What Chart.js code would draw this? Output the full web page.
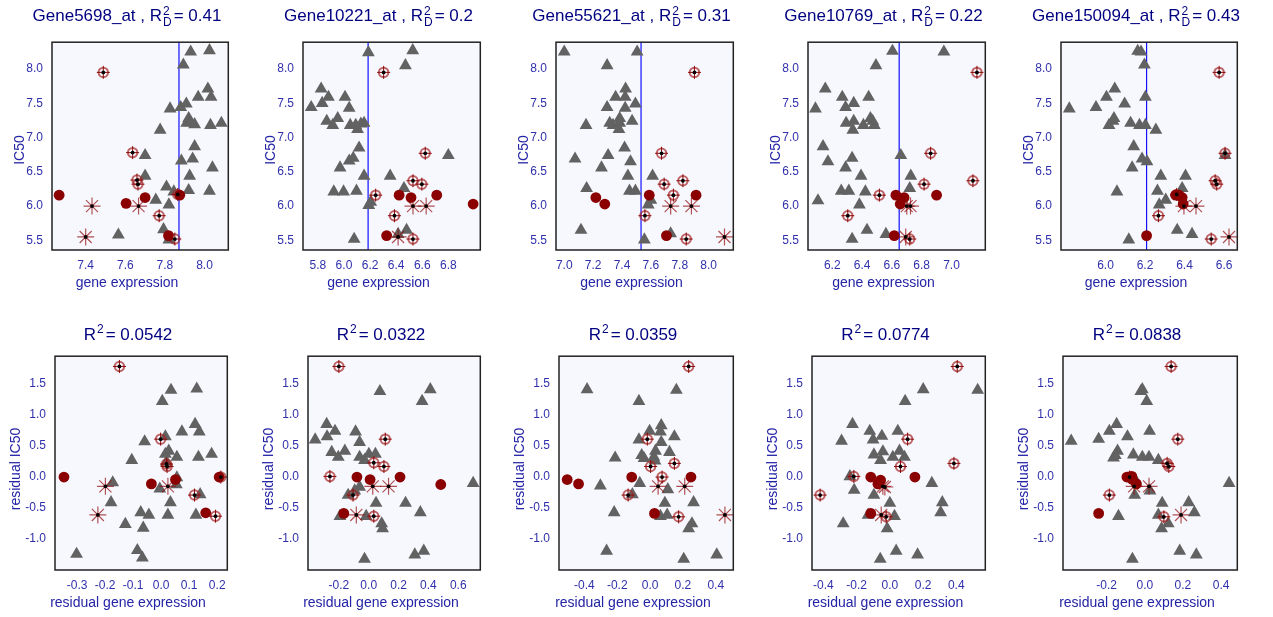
<!DOCTYPE html>
<html>
<head>
<meta charset="utf-8">
<script src="https://cdn.jsdelivr.net/npm/chart.js@4.4.1/dist/chart.umd.min.js"></script>
<style>
body{margin:0;background:#fff;width:1273px;height:617px;overflow:hidden;position:relative;font-family:"Liberation Sans",Arial,sans-serif}
canvas{position:absolute}
.ttl{position:absolute;font-size:17px;color:#000080;white-space:nowrap;transform:translate(-50%,-50%)}
.ax{position:absolute;font-size:14px;color:#2424a6;white-space:nowrap;transform:translate(-50%,-50%)}
.ax.v{transform:translate(-50%,-50%) rotate(-90deg)}
.ss{display:inline-block;vertical-align:middle;font-size:12px;line-height:11px;margin:0 2px 0 1px}
.sup{font-size:12px;position:relative;top:-7px;margin:0 2px 0 1px}
</style>
</head>
<body>
<script>
// gene names and statistics shown in titles
var genes = ['Gene5698_at', 'Gene10221_at', 'Gene55621_at', 'Gene10769_at', 'Gene150094_at'];
var r2D = ['0.41', '0.2', '0.31', '0.22', '0.43'];
var r2 = ['0.0542', '0.0322', '0.0359', '0.0774', '0.0838'];
var cutoffs = [7.871, 6.185, 7.532, 6.649, 6.208];

// axis limits and ticks
var icRange = [5.36, 8.39];
var icTicks = [5.5, 6.0, 6.5, 7.0, 7.5, 8.0];
var resRange = [-1.496, 1.945];
var resTicks = [-1.0, -0.5, 0.0, 0.5, 1.0, 1.5];
var exprRanges = [[7.23, 8.12], [5.686, 7.045], [6.943, 8.171], [6.037, 7.227], [5.775, 6.667]];
var exprTicks = [[7.4, 7.6, 7.8, 8.0], [5.8, 6.0, 6.2, 6.4, 6.6, 6.8], [7.0, 7.2, 7.4, 7.6, 7.8, 8.0], [6.2, 6.4, 6.6, 6.8, 7.0], [6.0, 6.2, 6.4, 6.6]];
var resxRanges = [[-0.379, 0.236], [-0.407, 0.748], [-0.555, 0.507], [-0.469, 0.575], [-0.429, 0.485]];
var resxTicks = [[-0.3, -0.2, -0.1, 0.0, 0.1, 0.2], [-0.2, 0.0, 0.2, 0.4, 0.6], [-0.4, -0.2, 0.0, 0.2, 0.4], [-0.4, -0.2, 0.0, 0.2, 0.4], [-0.2, 0.0, 0.2, 0.4]];

// top row: gene expression vs IC50  [x, y]
var p1Tri = [[7.93,8.25],[8.025,8.27],[7.893,8.06],[8.017,7.71],[7.968,7.59],[8.033,7.59],[7.908,7.49],[7.826,7.42],[7.88,7.44],[7.92,7.28],[7.91,7.21],[7.95,7.19],[7.93,7.22],[8.03,7.18],[8.085,7.21],[7.776,7.11],[7.95,6.87],[7.94,6.69],[7.883,6.66],[7.70,6.74],[8.04,6.56],[7.925,6.44],[7.70,6.44],[7.808,6.28],[7.92,6.23],[8.025,6.22],[7.754,6.09],[7.82,6.02],[7.565,5.58],[7.793,5.66],[7.82,5.51],[7.845,6.21]];
var p1Dot = [[7.266,6.16],[7.604,6.04],[7.70,6.125],[7.875,6.16],[7.818,5.57]];
var p1Ring = [[7.489,7.95],[7.637,6.78],[7.659,6.38],[7.664,6.32],[7.865,6.17],[7.771,5.86],[7.85,5.52]];
var p1Star = [[7.432,6.0],[7.667,6.0],[7.40,5.55]];

var p2Tri = [[6.187,8.24],[6.527,8.27],[6.471,8.05],[5.825,7.71],[5.881,7.59],[6.008,7.59],[5.833,7.50],[5.749,7.44],[6.04,7.43],[5.952,7.28],[5.868,7.24],[5.914,7.18],[6.048,7.18],[6.09,7.18],[6.13,7.20],[6.154,7.21],[6.104,7.12],[6.116,6.85],[6.071,6.70],[6.04,6.66],[5.97,6.56],[6.154,6.44],[6.354,6.44],[6.46,6.26],[6.80,6.74],[5.922,6.21],[5.997,6.21],[6.096,6.22],[6.205,6.06],[6.19,6.01],[6.48,5.65],[6.415,5.59],[6.078,5.52]];
var p2Dot = [[6.423,6.16],[6.514,6.125],[6.711,6.16],[6.99,6.03],[6.327,5.57]];
var p2Ring = [[6.304,7.95],[6.623,6.77],[6.529,6.37],[6.597,6.32],[6.243,6.16],[6.387,5.86],[6.529,5.52]];
var p2Star = [[6.529,6.0],[6.63,6.0],[6.415,5.55]];

var p3Tri = [[7.0,8.25],[7.505,8.25],[7.297,8.05],[7.425,7.71],[7.356,7.59],[7.422,7.59],[7.493,7.49],[7.297,7.44],[7.422,7.43],[7.384,7.28],[7.315,7.21],[7.384,7.21],[7.47,7.24],[7.151,7.18],[7.338,7.18],[7.379,7.12],[7.418,6.85],[7.075,6.69],[7.304,6.74],[7.459,6.65],[7.258,6.56],[7.441,6.44],[7.612,6.44],[7.155,6.26],[7.452,6.22],[7.493,6.22],[7.60,6.09],[7.582,6.02],[7.116,5.65],[7.737,5.60],[7.555,5.51]];
var p3Dot = [[7.219,6.125],[7.281,6.03],[7.589,6.16],[7.913,6.16],[7.708,5.57]];
var p3Ring = [[7.902,7.95],[7.674,6.77],[7.822,6.37],[7.692,6.32],[7.756,6.16],[7.559,5.86],[7.845,5.52]];
var p3Star = [[7.737,6.0],[7.881,6.0],[8.11,5.55]];

var p4Tri = [[6.604,8.26],[6.949,8.25],[6.493,8.05],[6.153,7.71],[6.267,7.59],[6.444,7.59],[6.344,7.50],[6.289,7.44],[6.087,7.42],[6.456,7.28],[6.293,7.21],[6.344,7.24],[6.409,7.18],[6.482,7.18],[6.471,7.24],[6.338,7.11],[6.138,6.87],[6.171,6.65],[6.333,6.70],[6.289,6.56],[6.66,6.74],[6.393,6.44],[6.727,6.44],[6.72,6.26],[6.26,6.22],[6.311,6.22],[6.422,6.21],[6.104,6.08],[6.382,6.02],[6.433,5.65],[6.56,5.59],[6.333,5.52]];
var p4Dot = [[6.627,6.16],[6.682,6.125],[6.656,6.03],[6.90,6.16],[6.616,5.57]];
var p4Ring = [[7.171,7.95],[6.86,6.77],[7.144,6.37],[6.816,6.32],[6.516,6.16],[6.304,5.86],[6.72,5.52]];
var p4Star = [[6.70,6.0],[6.725,6.0],[6.693,5.55]];

var p5Tri = [[6.163,8.26],[6.18,8.25],[6.197,8.06],[6.047,7.71],[6.005,7.59],[6.202,7.59],[6.097,7.49],[5.952,7.44],[5.817,7.42],[6.043,7.28],[6.038,7.24],[6.018,7.18],[6.127,7.21],[6.172,7.18],[6.202,7.18],[6.255,7.11],[6.143,6.87],[6.185,6.69],[6.21,6.65],[6.135,6.56],[6.28,6.44],[6.405,6.44],[6.605,6.74],[6.263,6.22],[6.388,6.26],[6.058,6.21],[6.305,6.09],[6.272,6.02],[6.363,5.65],[6.438,5.59],[6.118,5.51]];
var p5Dot = [[6.355,6.16],[6.388,6.125],[6.393,6.03],[6.372,6.16],[6.208,5.57]];
var p5Ring = [[6.575,7.95],[6.605,6.77],[6.555,6.37],[6.563,6.32],[6.36,6.17],[6.268,5.86],[6.535,5.52]];
var p5Star = [[6.458,6.0],[6.397,6.0],[6.625,5.55]];

// bottom row: residual gene expression vs residual IC50
var p6Tri = [[0.035,1.40],[0.127,1.42],[0.004,1.22],[0.121,0.85],[0.136,0.73],[0.074,0.73],[0.015,0.65],[-0.059,0.57],[0.027,0.42],[0.015,0.37],[0.056,0.32],[0.133,0.32],[0.18,0.37],[-0.105,0.27],[0.019,0.24],[0.056,-0.01],[-0.173,-0.09],[0.054,-0.12],[-0.005,-0.19],[0.139,-0.28],[-0.179,-0.41],[0.033,-0.41],[-0.073,-0.57],[-0.044,-0.61],[0.024,-0.61],[0.124,-0.61],[-0.128,-0.76],[-0.064,-0.82],[-0.302,-1.24],[-0.085,-1.18],[-0.067,-1.30]];
var p6Dot = [[-0.347,0.0],[-0.035,-0.11],[0.051,-0.04],[0.159,-0.575],[0.207,0.0]];
var p6Ring = [[-0.149,1.78],[-0.002,0.61],[0.019,0.21],[0.021,0.17],[0.213,0.0],[0.119,-0.29],[0.194,-0.63]];
var p6Star = [[-0.199,-0.15],[-0.226,-0.61],[0.024,-0.15]];

var p7Tri = [[0.413,1.41],[0.358,1.22],[0.075,1.38],[-0.282,0.85],[-0.226,0.74],[-0.279,0.65],[-0.359,0.60],[-0.088,0.73],[-0.061,0.56],[-0.248,0.40],[-0.16,0.42],[-0.204,0.32],[-0.061,0.32],[0.001,0.37],[0.045,0.37],[-0.028,0.27],[0.70,-0.10],[-0.138,-0.29],[-0.061,-0.16],[-0.094,-0.22],[0.049,-0.42],[0.247,-0.42],[0.346,-0.57],[-0.193,-0.63],[-0.017,-0.63],[0.087,-0.75],[0.093,-0.83],[0.309,-1.25],[0.369,-1.19],[-0.028,-1.32]];
var p7Dot = [[-0.079,0.0],[0.009,-0.04],[0.21,0.0],[0.483,-0.12],[-0.167,-0.585]];
var p7Ring = [[-0.2,1.78],[0.111,0.61],[0.034,0.23],[0.102,0.17],[-0.26,0.01],[-0.105,-0.29],[0.034,-0.63]];
var p7Star = [[0.027,-0.15],[0.133,-0.15],[-0.083,-0.61]];

var p8Tri = [[-0.384,1.41],[0.16,1.40],[-0.068,1.22],[0.068,0.83],[-0.003,0.74],[0.063,0.73],[0.148,0.65],[-0.068,0.60],[0.068,0.56],[0.033,0.42],[-0.051,0.35],[0.118,0.40],[0.023,0.32],[-0.213,0.31],[-0.037,0.30],[0.03,0.26],[-0.063,-0.10],[-0.303,-0.14],[0.108,-0.20],[-0.108,-0.28],[0.265,-0.41],[0.09,-0.42],[-0.219,-0.57],[0.063,-0.63],[0.104,-0.61],[0.255,-0.75],[0.235,-0.83],[-0.265,-1.19],[0.406,-1.25],[0.205,-1.32]];
var p8Dot = [[-0.505,-0.04],[-0.436,-0.11],[-0.112,0.0],[0.027,-0.585],[0.249,0.0]];
var p8Ring = [[0.235,1.78],[-0.017,0.61],[0.003,0.17],[0.148,0.22],[0.073,0.0],[-0.134,-0.29],[0.174,-0.64]];
var p8Star = [[0.049,-0.15],[0.211,-0.15],[0.456,-0.61]];

var p9Tri = [[0.201,1.41],[0.529,1.40],[0.092,1.22],[-0.225,0.85],[-0.121,0.74],[-0.048,0.66],[0.048,0.74],[-0.291,0.58],[-0.101,0.60],[-0.042,0.41],[0.058,0.42],[-0.096,0.36],[0.018,0.32],[0.088,0.32],[-0.056,0.27],[-0.241,0.01],[0.253,-0.10],[-0.215,-0.21],[-0.096,-0.29],[0.0,-0.42],[0.316,-0.41],[0.306,-0.57],[-0.131,-0.61],[0.028,-0.63],[-0.281,-0.75],[-0.016,-0.83],[0.038,-1.19],[0.167,-1.25],[-0.058,-1.32]];
var p9Dot = [[-0.115,0.0],[-0.072,-0.11],[-0.056,-0.05],[0.151,0.0],[-0.115,-0.585]];
var p9Ring = [[0.406,1.78],[0.107,0.61],[0.064,0.17],[0.386,0.22],[-0.217,0.01],[-0.42,-0.29],[-0.022,-0.64]];
var p9Star = [[-0.042,-0.15],[-0.03,-0.16],[-0.052,-0.61]];

var p10Tri = [[-0.013,1.41],[-0.021,1.38],[0.01,1.22],[-0.148,0.85],[-0.186,0.74],[0.025,0.74],[-0.091,0.65],[-0.242,0.61],[-0.386,0.58],[-0.143,0.42],[-0.155,0.35],[-0.06,0.36],[-0.013,0.32],[0.022,0.32],[-0.164,0.31],[0.071,0.27],[0.442,-0.10],[0.027,-0.22],[-0.053,-0.29],[0.091,-0.42],[0.23,-0.41],[0.26,-0.57],[-0.138,-0.63],[0.071,-0.61],[0.123,-0.75],[0.088,-0.83],[0.183,-1.19],[0.27,-1.25],[-0.065,-1.32],[-0.051,-0.04]];
var p10Dot = [[-0.094,0.0],[-0.068,0.01],[-0.065,-0.04],[-0.044,-0.11],[-0.242,-0.585]];
var p10Ring = [[0.138,1.78],[0.173,0.61],[0.117,0.22],[0.126,0.17],[-0.08,0.0],[-0.186,-0.29],[0.10,-0.64]];
var p10Star = [[0.022,-0.15],[-0.056,-0.15],[0.19,-0.61]];

var topSets = [[p1Tri,p1Dot,p1Ring,p1Star],[p2Tri,p2Dot,p2Ring,p2Star],[p3Tri,p3Dot,p3Ring,p3Star],[p4Tri,p4Dot,p4Ring,p4Star],[p5Tri,p5Dot,p5Ring,p5Star]];
var botSets = [[p6Tri,p6Dot,p6Ring,p6Star],[p7Tri,p7Dot,p7Ring,p7Star],[p8Tri,p8Dot,p8Ring,p8Star],[p9Tri,p9Dot,p9Ring,p9Star],[p10Tri,p10Dot,p10Ring,p10Star]];

// plot boxes in page pixels: left, right
var topBoxes = [[52,230],[303,482],[556,735],[808,987],[1061,1239]];
var botBoxes = [[55,229],[308,482],[559,735],[812,987],[1063,1239]];

var tickColor = '#3030ad';
var tickFont = {family: '"Liberation Sans", Arial, sans-serif', size: 12};

function pts(a) {
    return a.map(function(p){ return {x: p[0], y: p[1]}; });
}

var framePlugin = {
    id: 'frame',
    beforeDatasetsDraw: function(chart, args, opts) {
        var a = chart.chartArea, ctx = chart.ctx;
        ctx.save();
        ctx.fillStyle = '#f7f8fe';
        ctx.fillRect(a.left, a.top, a.right - a.left, a.bottom - a.top);
        if (opts.cut != null) {
            var x = chart.scales.x.getPixelForValue(opts.cut);
            ctx.strokeStyle = '#1010ff';
            ctx.lineWidth = 1.2;
            ctx.beginPath();
            ctx.moveTo(x, a.top);
            ctx.lineTo(x, a.bottom);
            ctx.stroke();
        }
        ctx.restore();
    },
    afterDatasetsDraw: function(chart) {
        var a = chart.chartArea, ctx = chart.ctx;
        ctx.save();
        ctx.strokeStyle = '#222';
        ctx.lineWidth = 1.5;
        ctx.strokeRect(a.left, a.top, a.right - a.left, a.bottom - a.top);
        ctx.restore();
    }
};

function makePanel(box, top, bottom, xr, xt, yr, yt, sets, cut) {
    var L = 50, T = 6, R = 8, B = 32;
    var w = box[1] - box[0] + L + R, h = bottom - top + T + B;
    var cv = document.createElement('canvas');
    cv.width = w; cv.height = h;
    cv.style.left = (box[0] - L) + 'px';
    cv.style.top = (top - T) + 'px';
    cv.style.width = w + 'px';
    cv.style.height = h + 'px';
    document.body.appendChild(cv);

    var marked = sets[2].concat(sets[3]);
    new Chart(cv, {
        type: 'scatter',
        data: {
            datasets: [
                {data: pts(marked), pointStyle: 'circle', pointRadius: 1.9, backgroundColor: '#000', borderWidth: 0, clip: 0},
                {data: pts(sets[3]), pointStyle: 'star', pointRadius: 8.5, borderColor: 'rgba(145,10,10,0.7)', borderWidth: 1.2, clip: 0},
                {data: pts(sets[1]), pointStyle: 'circle', pointRadius: 5.4, backgroundColor: '#8b0000', borderWidth: 0, clip: 0},
                {data: pts(sets[2]), pointStyle: 'cross', pointRadius: 6.5, borderColor: '#8b0a0a', borderWidth: 1, clip: 0},
                {data: pts(sets[2]), pointStyle: 'circle', pointRadius: 4.7, backgroundColor: 'rgba(0,0,0,0)', borderColor: 'rgba(165,35,35,0.7)', borderWidth: 2, clip: 0},
                {data: pts(sets[0]), pointStyle: 'triangle', pointRadius: 7.4, backgroundColor: '#626262', borderWidth: 0, clip: 0}
            ]
        },
        options: {
            responsive: false,
            animation: false,
            events: [],
            layout: {padding: {left: 0, top: T, right: R, bottom: 0}},
            plugins: {legend: {display: false}, tooltip: {enabled: false}, frame: {cut: cut}},
            scales: {
                x: {
                    type: 'linear', min: xr[0], max: xr[1],
                    grid: {display: false, drawTicks: false},
                    border: {display: false},
                    afterFit: function(s){ s.height = B; },
                    afterBuildTicks: function(s){ s.ticks = xt.map(function(v){ return {value: v}; }); },
                    ticks: {padding: 8, color: tickColor, font: tickFont, autoSkip: false, maxRotation: 0,
                            callback: function(v){ return Number(v).toFixed(1); }}
                },
                y: {
                    type: 'linear', min: yr[0], max: yr[1],
                    grid: {display: false, drawTicks: false},
                    border: {display: false},
                    afterFit: function(s){ s.width = L; },
                    afterBuildTicks: function(s){ s.ticks = yt.map(function(v){ return {value: v}; }); },
                    ticks: {padding: 9, color: tickColor, font: tickFont, autoSkip: false,
                            callback: function(v){ return Number(v).toFixed(1); }}
                }
            }
        },
        plugins: [framePlugin]
    });
}

function addText(cls, html, x, y) {
    var d = document.createElement('div');
    d.className = cls;
    d.innerHTML = html;
    d.style.left = x + 'px';
    d.style.top = y + 'px';
    document.body.appendChild(d);
}

for (var i = 0; i < 5; i++) {
    var tb = topBoxes[i], bb = botBoxes[i];
    makePanel(tb, 32, 250, exprRanges[i], exprTicks[i], icRange, icTicks, topSets[i], cutoffs[i]);
    makePanel(bb, 346, 570, resxRanges[i], resxTicks[i], resRange, resTicks, botSets[i], null);

    var tc = (tb[0] + tb[1]) / 2 - 14, bc = (bb[0] + bb[1]) / 2 - 14;
    addText('ttl', genes[i] + ' , R<span class="ss">2<br>D</span>= ' + r2D[i], tc, 17);
    addText('ax', 'gene expression', tc, 282);
    addText('ax v', 'IC50', tb[0] - 33, 150);

    addText('ttl', 'R<span class="sup">2</span>= ' + r2[i], bc, 335);
    addText('ax', 'residual gene expression', bc, 602);
    addText('ax v', 'residual IC50', bb[0] - 40, 469);
}
</script>
</body>
</html>
